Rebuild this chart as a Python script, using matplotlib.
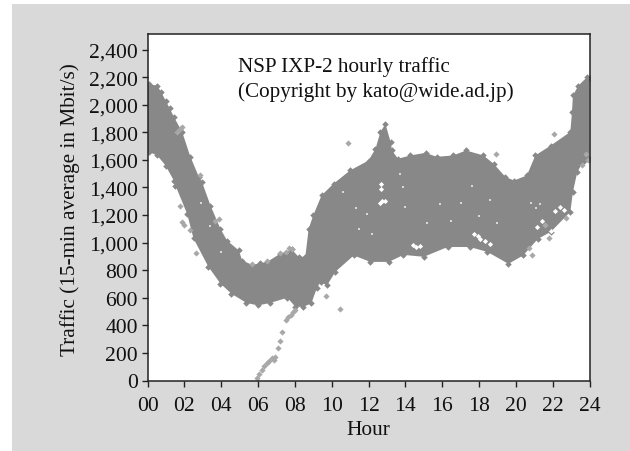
import matplotlib
matplotlib.use("Agg")
import matplotlib.pyplot as plt
from matplotlib.patches import Rectangle

plt.rcParams['font.family'] = ['Liberation Serif', 'DejaVu Serif']

hours_upper = [0.0,0.07,0.53,0.75,0.98,1.2,1.43,1.88,2.33,2.79,2.96,3.42,3.96,4.32,4.96,5.14,5.68,6.1,6.5,7.2,7.84,8.2,8.57,8.75,
               9.0,9.45,10.1,11.0,12.0,12.38,12.65,12.92,13.2,13.28,13.6,14.28,15.1,15.7,16.6,17.3,18.24,18.8,19.43,19.9,20.6,21.06,
               21.9,22.96,23.05,23.1,23.4,23.87,24.0]
upper = [2120,2150,2137,2090,2030,1975,1912,1803,1622,1477,1440,1269,1100,1015,943,870,839,850,860,919,950,897,897,1100,
         1197,1342,1427,1523,1595,1680,1803,1860,1730,1668,1608,1632,1651,1622,1632,1668,1632,1571,1477,1450,1487,1632,
         1704,1803,1949,2067,2139,2200,2190]
hours_lower = [0.0,0.07,0.53,0.98,1.43,1.52,2.15,2.5,3.3,3.96,4.56,5.37,6.0,6.67,7.6,8.03,8.46,8.9,9.2,9.4,9.75,10.2,11.2,
               12.1,13.1,13.9,15.0,16.3,17.5,18.45,19.6,20.4,21.2,21.9,22.96,23.1,23.34,23.7,24.0]
lower = [1680,1658,1632,1559,1450,1414,1209,1030,826,703,629,563,544,563,600,534,534,560,672,715,690,788,907,
         860,860,911,897,968,968,933,846,907,1027,1078,1223,1368,1513,1595,1608]

out_hours = [5.97,6.08,6.2,6.33,6.47,6.6,6.74,6.85,6.92,7.1,7.2,7.3,7.5,7.62,7.77,7.9,8.03,
             10.87,10.46,9.68,18.9,22.06,20.9,21.8,
             1.76,1.88,2.0,2.33,2.66,3.9,3.65,1.88,1.6,1.74,2.87,
             5.68,6.5,7.2,7.5,7.7,7.84,23.6,23.8,23.9,20.7,21.6,22.7]
out_values = [20,50,78,105,128,145,165,150,174,237,290,355,440,460,476,495,513,
              1723,520,616,1644,1789,911,1033,
              1269,1153,1130,1088,926,1173,1160,1840,1803,1825,1487,
              845,865,925,935,960,950,1560,1640,1600,960,1130,1180]

hole_hours = [12.74,12.62,12.9,12.7,14.4,14.6,14.8,17.75,17.95,18.08,18.35,18.6,21.4,21.15,22.4,22.1,22.6,12.7,21.9]
hole_values = [1305,1285,1300,1390,985,968,975,1060,1045,1027,1010,991,1160,1110,1260,1230,1240,1425,1085]

speck_hours = [3.4,4.0,10.6,11.3,11.9,12.2,13.7,13.9,14.0,15.2,15.9,17.0,17.6,18.0,18.6,19.0,20.8,21.1,21.3,11.5,16.5,2.9]
speck_values = [1120,930,1370,1250,1210,1060,1500,1400,1260,1140,1280,1290,1410,1190,1310,1140,1290,1250,1280,1100,1160,1290]

yticks = [0,200,400,600,800,1000,1200,1400,1600,1800,2000,2200,2400]
ytick_labels = ['0','200','400','600','800','1,000','1,200','1,400','1,600','1,800','2,000','2,200','2,400']
xticks = [0,2,4,6,8,10,12,14,16,18,20,22,24]
xtick_labels = ['00','02','04','06','08','10','12','14','16','18','20','22','24']

W, H = 630, 452
fig = plt.figure(figsize=(W/100, H/100), dpi=100, facecolor='white')
fig.add_artist(Rectangle((12/W, 0), 1-12/W, 1-5/H, transform=fig.transFigure, fc='#d9d9d9', ec='none', zorder=0))

L, R, T, B = 147.5, 589.5, 35.0, 381.5
ax = fig.add_axes([L/W, 1-B/H, (R-L)/W, (B-T)/H], facecolor='white')
ax.set_xlim(0, 24)
ax.set_ylim(0, (B-T)/0.1379)

band = '#888888'
ax.fill(list(hours_upper)+list(hours_lower)[::-1], list(upper)+list(lower)[::-1], color=band, lw=0, zorder=2)
ax.scatter(hours_upper, upper, marker='D', s=11, c=band, lw=0, zorder=2)
ax.scatter(hours_lower, lower, marker='D', s=11, c=band, lw=0, zorder=2)
ax.scatter(out_hours, out_values, marker='D', s=10, c='#a8a8a8', lw=0, zorder=3)
ax.scatter(hole_hours, hole_values, marker='D', s=7, c='white', lw=0, zorder=4)
ax.scatter(speck_hours, speck_values, marker='s', s=1.5, c='#d8d8d8', lw=0, zorder=4)

ax.set_xticks(xticks, xtick_labels)
ax.set_yticks(yticks, ytick_labels)
ax.tick_params(axis='both', direction='out', length=4, width=1.0, color='#222222', labelsize=15.6, labelcolor='#111111')
ax.tick_params(axis='x', pad=7)
ax.tick_params(axis='y', pad=3)
for s in ax.spines.values():
    s.set_linewidth(1.1)
    s.set_color('#222222')
    s.set_zorder(6)

fig.text(368/W, 1-431/H, 'Hour', fontsize=15.4, color='#111111', ha='center', va='center')
fig.text(70/W, 1-210/H, 'Traffic (15-min average in Mbit/s)', fontsize=15.3, color='#111111',
         rotation=90, ha='center', va='center')
fig.text(238/W, 1-72/H, 'NSP IXP-2 hourly traffic', fontsize=15.2, color='#111111', va='baseline')
fig.text(238/W, 1-97/H, '(Copyright by kato@wide.ad.jp)', fontsize=15.2, color='#111111', va='baseline')
fig.savefig('out.png', dpi=100, facecolor='white')
